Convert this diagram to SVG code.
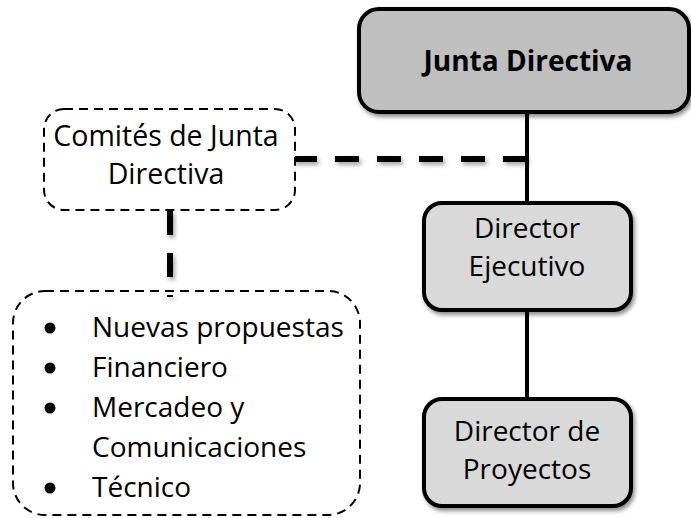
<svg xmlns="http://www.w3.org/2000/svg" width="691" height="518" viewBox="0 0 691 518">
<defs>
<filter id="sh" x="-10%" y="-10%" width="125%" height="130%">
<feDropShadow dx="2" dy="3" stdDeviation="2" flood-color="#000" flood-opacity="0.45"/>
</filter>
<filter id="shl" filterUnits="userSpaceOnUse" x="0" y="0" width="691" height="518">
<feDropShadow dx="2" dy="3" stdDeviation="2" flood-color="#000" flood-opacity="0.35"/>
</filter>
<style>
text{font-family:"Open Sans","Noto Sans","Liberation Sans",sans-serif;fill:#000;font-size:28px}
.bold{font-weight:bold;font-size:28px}
.box{stroke:#000;stroke-width:4;filter:url(#sh)}
.dbox{fill:#fff;stroke:#000;stroke-width:2;stroke-dasharray:9 6}
.solid{stroke:#000;stroke-width:4;fill:none}
.dash{stroke:#000;stroke-width:6;fill:none;stroke-dasharray:24 18}
</style>
</defs>
<g id="connectors">
<line class="solid" x1="527" y1="112" x2="527" y2="203"/>
<line class="solid" x1="527" y1="310" x2="527" y2="398"/>
<g filter="url(#shl)">
<line class="dash" x1="527" y1="159" x2="293" y2="159"/>
<line class="dash" x1="170" y1="211" x2="170" y2="297"/>
</g>
</g>
<g id="junta">
<rect class="box" x="359" y="9" width="330" height="103" rx="20" fill="#bfbfbf"/>
<text class="bold" x="528" y="71" text-anchor="middle">Junta Directiva</text>
</g>
<g id="comites">
<rect class="dbox" x="44" y="109" width="251" height="101" rx="20"/>
<text x="166" y="146" text-anchor="middle" style="font-size:28.5px">Comités de Junta</text>
<text x="166" y="184" text-anchor="middle" style="font-size:28.5px">Directiva</text>
</g>
<g id="ejecutivo">
<rect class="box" x="424" y="203" width="207" height="107" rx="18" fill="#d9d9d9"/>
<text x="527" y="238" text-anchor="middle">Director</text>
<text x="527" y="276" text-anchor="middle">Ejecutivo</text>
</g>
<g id="proyectos">
<rect class="box" x="424" y="399" width="207" height="107" rx="18" fill="#d9d9d9"/>
<text x="527" y="441" text-anchor="middle">Director de</text>
<text x="527" y="479" text-anchor="middle">Proyectos</text>
</g>
<g id="lista">
<rect class="dbox" x="13" y="291" width="347" height="224" rx="32" style="fill:none"/>
<circle cx="50" cy="328" r="5.5"/>
<circle cx="50" cy="368" r="5.5"/>
<circle cx="50" cy="408" r="5.5"/>
<circle cx="50" cy="488" r="5.5"/>
<text x="92" y="337">Nuevas propuestas</text>
<text x="92" y="377">Financiero</text>
<text x="92" y="417">Mercadeo y</text>
<text x="92" y="457">Comunicaciones</text>
<text x="92" y="497">Técnico</text>
</g>
</svg>
